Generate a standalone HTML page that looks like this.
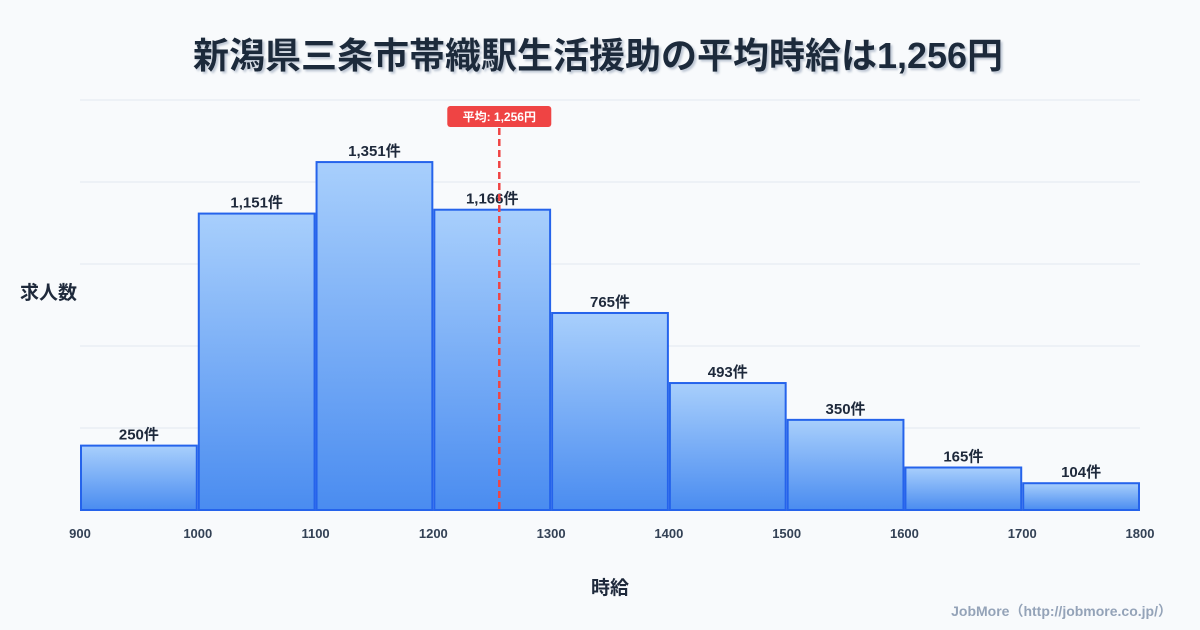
<!DOCTYPE html>
<html><head><meta charset="utf-8"><style>
body{margin:0;background:#f8fafc;}
svg{display:block;font-family:"Liberation Sans","Noto Sans CJK JP",sans-serif;}
</style></head><body>
<svg id="chart" width="1200" height="630">
<defs><linearGradient id="g" x1="0" y1="0" x2="0" y2="1"><stop offset="0" stop-color="#a8cffc"/><stop offset="1" stop-color="#4a8cf0"/></linearGradient>
<filter id="sh"><feDropShadow dx="2" dy="2" stdDeviation="1" flood-color="#94a3b8" flood-opacity="0.6"/></filter></defs>
<rect width="1200" height="630" fill="#f8fafc"/>
<text x="598" y="68" text-anchor="middle" font-size="36" font-weight="bold" fill="#1e293b" filter="url(#sh)">新潟県三条市帯織駅生活援助の平均時給は1,256円</text>
<text x="20" y="299" font-size="19" font-weight="bold" fill="#1e293b">求人数</text>
<text x="610" y="594" text-anchor="middle" font-size="19" font-weight="bold" fill="#1e293b">時給</text>
<text x="1172" y="616" text-anchor="end" font-size="14" font-weight="bold" fill="#94a3b8">JobMore（http://jobmore.co.jp/）</text>
<g id="grid"></g><g id="bars"></g><g id="ticks"></g><g id="mean"></g>
</svg>
<script>
const binStarts=[900,1000,1100,1200,1300,1400,1500,1600,1700];
const counts=[250,1151,1351,1166,765,493,350,165,104];
const tickLabels=[900,1000,1100,1200,1300,1400,1500,1600,1700,1800];
const meanValue=1256;
const NS="http://www.w3.org/2000/svg";
const x0=80,x1=1140,y0=510,yTop=100,xMin=900,xMax=1800,yMax=1592;
const sx=v=>x0+(v-xMin)/(xMax-xMin)*(x1-x0);
const sy=v=>y0-v/yMax*(y0-yTop);
function mk(t,a,p){const e=document.createElementNS(NS,t);for(const k in a)e.setAttribute(k,a[k]);p.appendChild(e);return e;}
const grid=document.getElementById('grid');
for(let i=0;i<=5;i++){const y=y0-i*(y0-yTop)/5;const l=mk('line',{x1:x0,x2:x1,y1:y,y2:y,stroke:i==0?'#334155':'#e2e8f0','stroke-width':1},grid);

}
const bars=document.getElementById('bars');
binStarts.forEach((b,i)=>{const xa=sx(b)+1,xb=sx(b+100)-1,y=sy(counts[i]);
const r=mk('rect',{x:xa,y:y,width:xb-xa,height:y0-y,fill:'url(#g)',stroke:'#2563eb','stroke-width':2},bars);


const t=mk('text',{x:(xa+xb)/2,y:y-6,'text-anchor':'middle','font-size':15,'font-weight':'bold',fill:'#1e293b'},bars);
t.textContent=counts[i].toLocaleString('en-US')+'件';

});
const ticks=document.getElementById('ticks');
tickLabels.forEach(v=>{const t=mk('text',{x:sx(v),y:538,'text-anchor':'middle','font-size':13,'font-weight':'bold',fill:'#334155'},ticks);
t.textContent=v;

});
const mg=document.getElementById('mean');const mx=sx(meanValue);
const ml=mk('line',{x1:mx,x2:mx,y1:128,y2:y0,stroke:'#ef4444','stroke-width':2.5,'stroke-dasharray':'7,4'},mg);


const mb=mk('rect',{x:mx-52,y:106,width:104,height:21,rx:3,fill:'#ef4444'},mg);


const mt=mk('text',{x:mx,y:121,'text-anchor':'middle','font-size':12,'font-weight':'bold',fill:'#fff'},mg);
mt.textContent='平均: '+meanValue.toLocaleString('en-US')+'円';


</script>
</body></html>
